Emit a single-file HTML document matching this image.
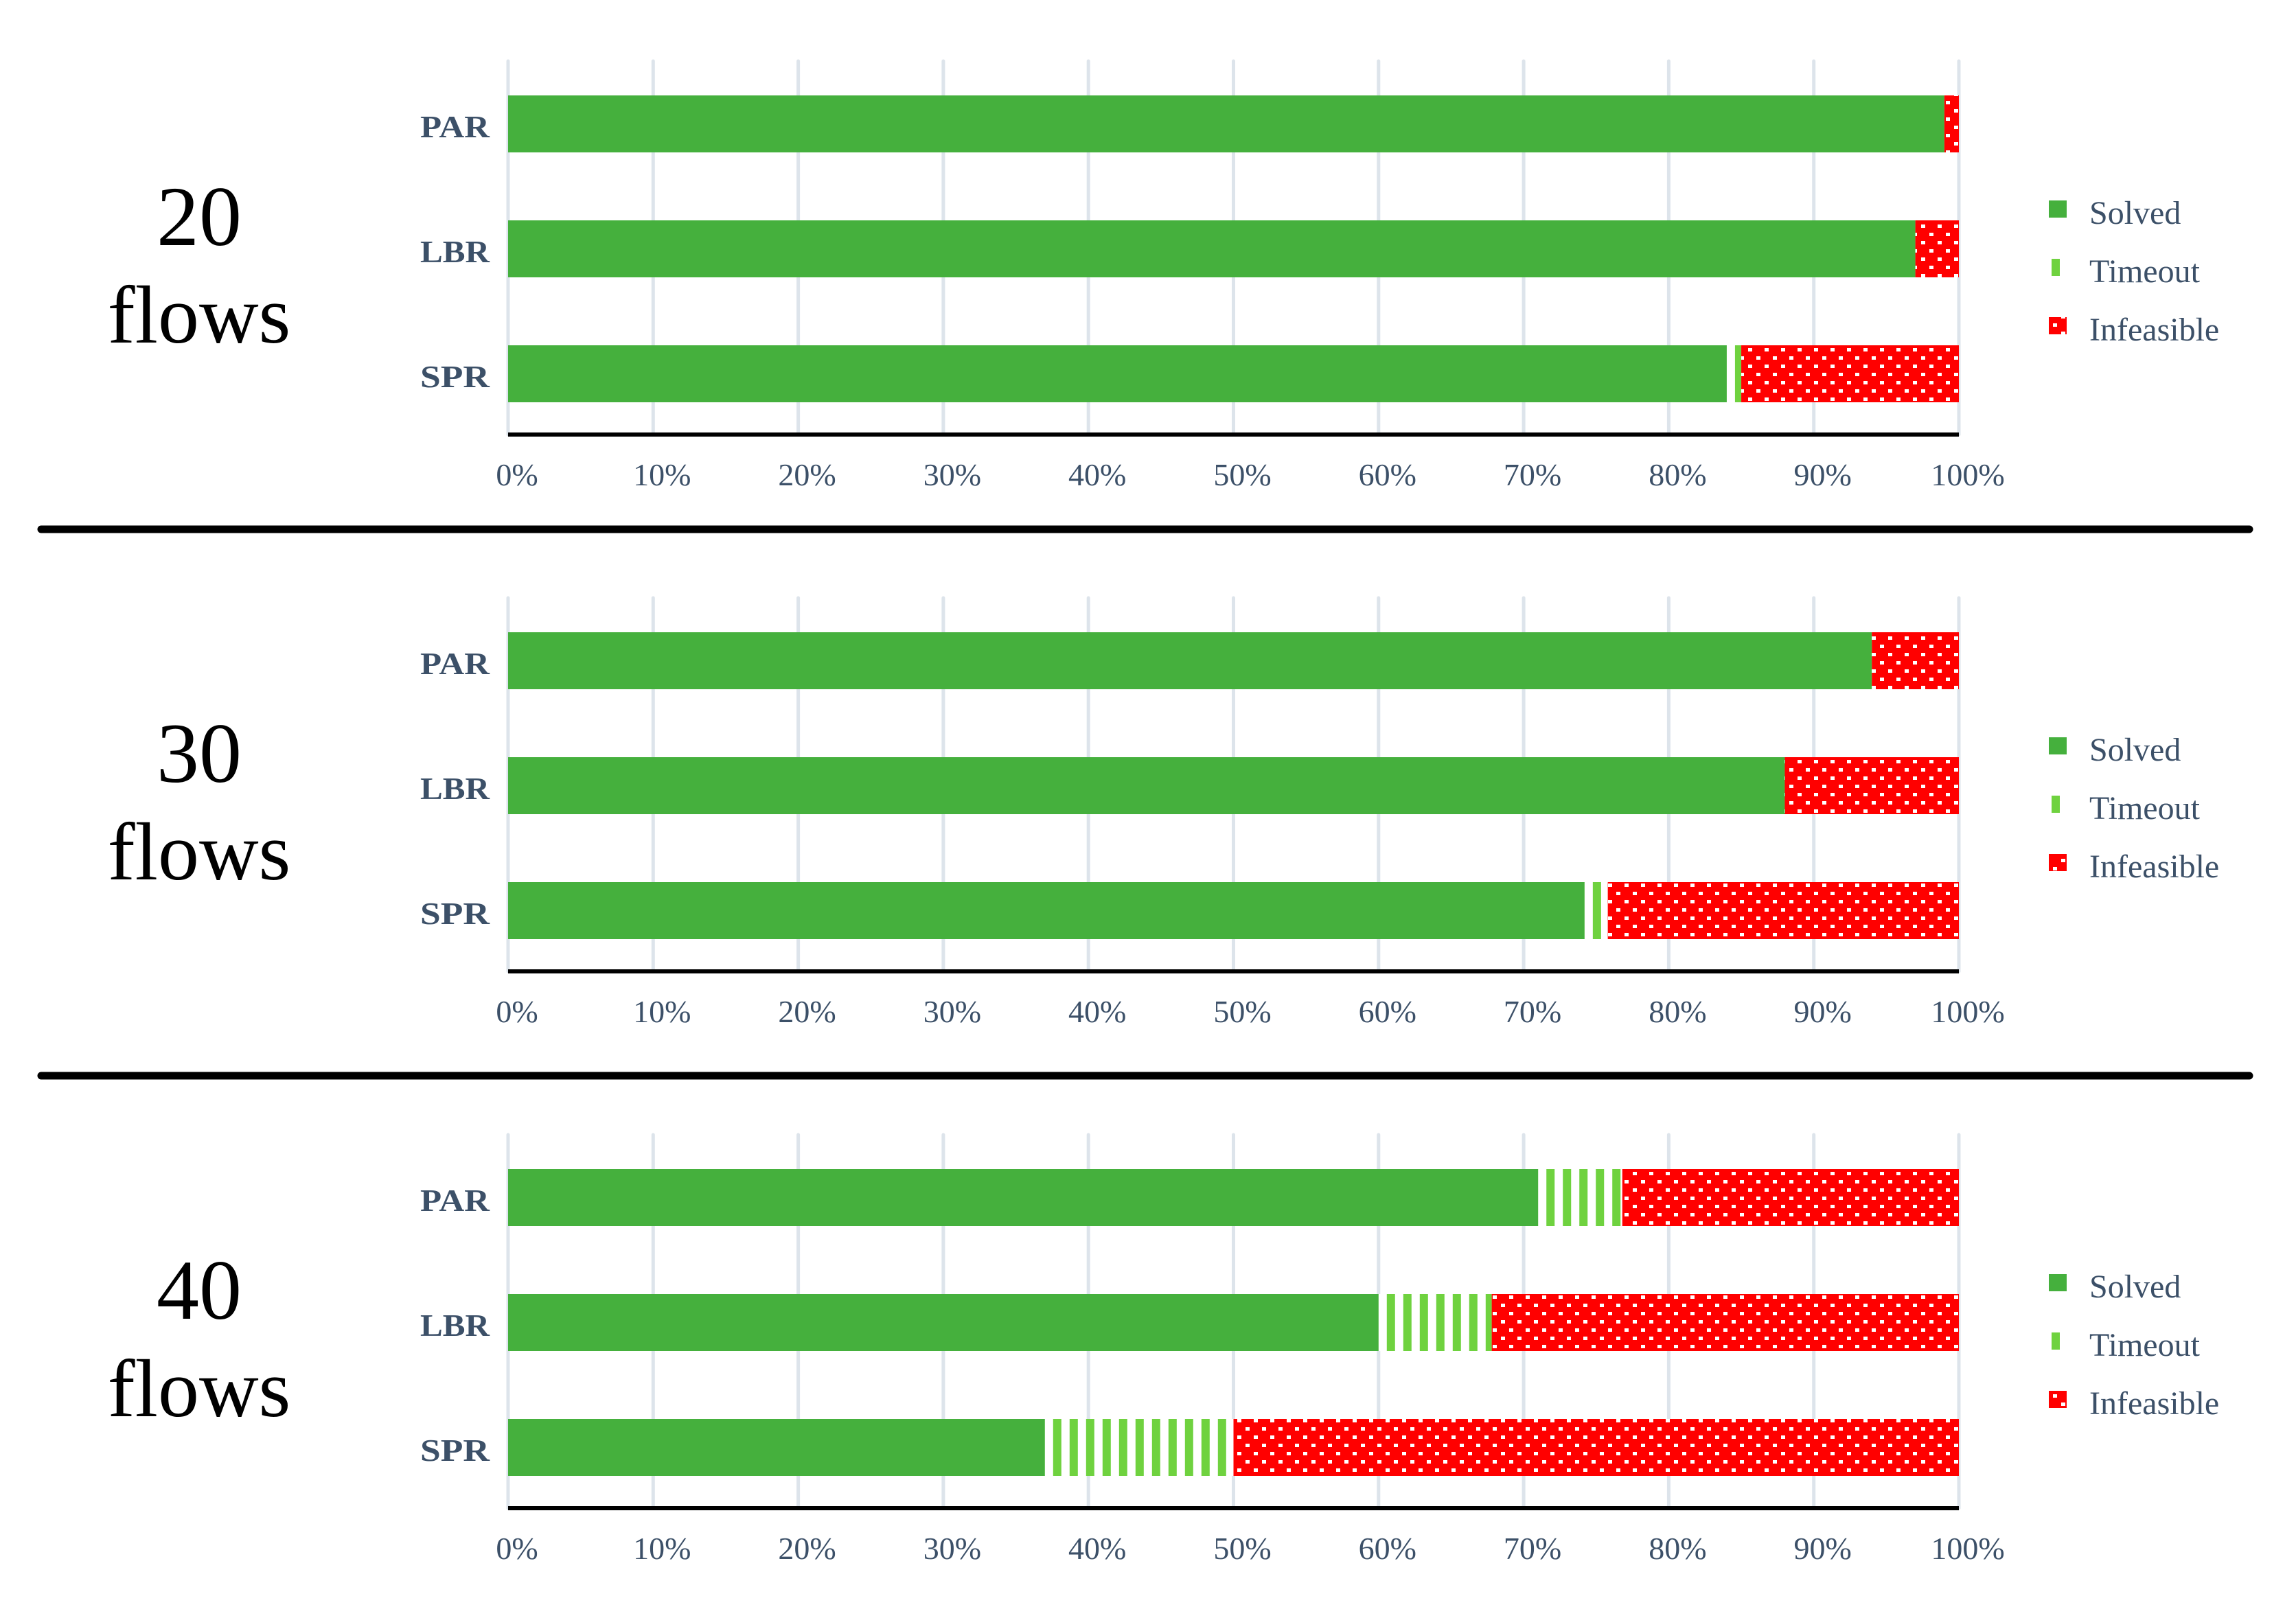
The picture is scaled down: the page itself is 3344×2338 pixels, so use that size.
<!DOCTYPE html>
<html><head><meta charset="utf-8"><style>
html,body{margin:0;padding:0;background:#fff;}
svg{display:block;}
text{font-family:"Liberation Serif",serif;}
</style></head><body>
<svg id="chart" width="3344" height="2338" viewBox="0 0 3344 2338" xmlns="http://www.w3.org/2000/svg">
<defs>
<pattern id="dots" patternUnits="userSpaceOnUse" width="24" height="24" x="0" y="0">
<rect width="24" height="24" fill="#ff0000"/>
<rect x="2" y="3" width="6" height="5" fill="#fff"/>
<rect x="14" y="15" width="6" height="5" fill="#fff"/>
</pattern>
<pattern id="stripes" patternUnits="userSpaceOnUse" width="24" height="24" x="0" y="0">
<rect width="24" height="24" fill="#fff"/>
<rect x="12" y="0" width="12" height="24" fill="#6fd23f"/>
</pattern>
</defs>
<g id="root"></g>
</svg>
<script>
const panelLabels = ["20", "30", "40"];
const categories = ["PAR", "LBR", "SPR"];
const seriesNames = ["Solved", "Timeout", "Infeasible"];
const solved = [[99.0, 97.0, 84.0], [94.0, 88.0, 74.2], [71.0, 60.0, 37.0]];
const timeout = [[0, 0, 1.0], [0, 0, 1.6], [5.8, 7.8, 13.0]];
const infeasible = [[1.0, 3.0, 15.0], [6.0, 12.0, 24.2], [23.2, 32.2, 50.0]];
const tickLabels = ["0%","10%","20%","30%","40%","50%","60%","70%","80%","90%","100%"];

const NS = "http://www.w3.org/2000/svg";
const root = document.getElementById("root");
function mk(tag, attrs, parent){
  const e = document.createElementNS(NS, tag);
  for (const k in attrs) e.setAttribute(k, attrs[k]);
  (parent || root).appendChild(e);
  return e;
}
const X0 = 740, X100 = 2853;
function xs(v){ return X0 + (X100 - X0) * v / 100; }
const PANEL_DY = 782;
const TXT = "#3c5068";

for (let p = 0; p < 3; p++) {
  const oy = p * PANEL_DY;
  const g = mk("g", {});
  
  

  const t1 = mk("text", {x: 290, y: 357 + oy, "text-anchor": "middle", "font-size": 124, fill: "#000"}, g);
  t1.textContent = panelLabels[p];
  
  
  const t2 = mk("text", {x: 290, y: 499 + oy, "text-anchor": "middle", "font-size": 120, fill: "#000"}, g);
  t2.textContent = "flows";
  
  

  for (let i = 0; i < tickLabels.length; i++) {
    const gx = xs(i * 10);
    const gl = mk("line", {x1: gx, x2: gx, y1: 89 + oy, y2: 633 + oy, stroke: "#dde4eb", "stroke-width": 5, "stroke-linecap": "round"}, g);
    
    
    const tl = mk("text", {x: gx + 13, y: 707 + oy, "text-anchor": "middle", "font-size": 46, fill: TXT}, g);
    tl.textContent = tickLabels[i];
    
    
  }

  for (let c = 0; c < categories.length; c++) {
    const by = 139 + c * 182 + oy, bh = 83;
    const lab = mk("text", {x: 713, y: by + 61, "text-anchor": "end", "font-size": 46, "font-weight": "bold", fill: TXT, textLength: 101, lengthAdjust: "spacingAndGlyphs"}, g);
    lab.textContent = categories[c];
    
    
    const s = solved[p][c], t = timeout[p][c], f = infeasible[p][c];
    const r1 = mk("rect", {x: xs(0), y: by, width: xs(s) - xs(0), height: bh, fill: "#45b03d"}, g);
    
    
    if (t > 0) {
      const tx = xs(s);
      const pg = mk("g", {transform: "translate(" + tx + ",0)"}, g);
      const r2 = mk("rect", {x: 0, y: by, width: xs(s + t) - tx, height: bh, fill: "url(#stripes)"}, pg);
      
      
    }
    const r3 = mk("rect", {x: xs(s + t), y: by, width: xs(s + t + f) - xs(s + t), height: bh, fill: "url(#dots)"}, g);
    
    
  }

  const ax = mk("line", {x1: X0, x2: X100, y1: 633 + oy, y2: 633 + oy, stroke: "#000", "stroke-width": 6}, g);
  
  

  const fills = ["#45b03d", "url(#stripes)", "url(#dots)"];
  for (let i = 0; i < 3; i++) {
    const ly = 292 + i * 85 + oy;
    const sw = mk("rect", {x: 2984, y: ly, width: 26, height: 25, fill: fills[i]}, g);
    
    
    const lt = mk("text", {x: 3043, y: ly + 34, "font-size": 48, fill: TXT}, g);
    lt.textContent = seriesNames[i];
    
    
  }
}
const seps = [771, 1567];
for (let i = 0; i < seps.length; i++) {
  const sl = mk("line", {x1: 60, x2: 3276, y1: seps[i], y2: seps[i], stroke: "#000", "stroke-width": 11, "stroke-linecap": "round"});
  
  
}
</script>
</body></html>
